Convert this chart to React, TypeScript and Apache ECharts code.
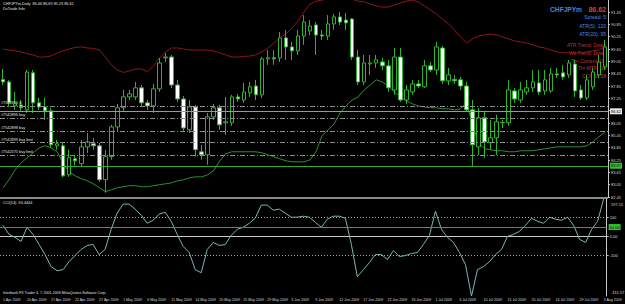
import React, { useEffect, useRef } from "react";
import * as echarts from "echarts";

const tickLabels = [
  "1 Apr 2009", "10 Apr 2009", "17 Apr 2009", "22 Apr 2009", "27 Apr 2009", "1 May 2009",
  "6 May 2009", "11 May 2009", "14 May 2009", "20 May 2009", "25 May 2009", "29 May 2009",
  "3 Jun 2009", "9 Jun 2009", "12 Jun 2009", "17 Jun 2009", "22 Jun 2009", "26 Jun 2009",
  "1 Jul 2009", "6 Jul 2009", "10 Jul 2009", "15 Jul 2009", "20 Jul 2009", "24 Jul 2009",
  "29 Jul 2009", "3 Aug 2009",
];

const opens = [
  88.17, 88.05, 86.88, 86.93, 86.69, 88.49, 87.03, 86.83, 86.64, 84.94,
  84.94, 83.53, 84.31, 84.07, 84.89, 85.04, 84.94, 83.29, 84.41, 85.86,
  86.79, 87.32, 87.32, 87.76, 87.03, 86.88, 87.71, 89.22, 89.26, 87.90,
  87.22, 85.72, 86.83, 84.65, 84.50, 86.35, 86.79, 86.06, 86.06, 87.32,
  87.17, 87.52, 87.85, 87.42, 89.17, 89.22, 89.22, 90.19, 89.75, 89.56,
  90.28, 90.53, 90.82, 90.33, 90.28, 90.87, 91.21, 91.06, 91.11, 89.26,
  88.05, 88.92, 88.97, 89.02, 88.83, 87.66, 89.26, 87.17, 87.56, 87.95,
  87.81, 88.83, 88.63, 89.70, 88.10, 88.17, 88.15, 87.85, 86.69, 84.89,
  86.30, 85.09, 85.33, 86.06, 86.06, 87.61, 87.17, 87.56, 87.76, 88.00,
  87.61, 87.61, 88.44, 88.49, 88.39, 88.92, 87.66, 87.27, 87.81, 88.39,
  88.78,
];
const closes = [
  88.05, 87.03, 86.98, 86.79, 88.53, 87.03, 86.83, 86.64, 84.99, 85.04,
  83.48, 84.36, 84.21, 84.89, 85.13, 84.94, 83.29, 84.41, 85.86, 86.79,
  87.32, 87.47, 87.76, 87.03, 86.88, 87.71, 88.97, 89.26, 87.90, 87.22,
  85.81, 86.83, 84.75, 84.50, 86.35, 86.79, 85.96, 86.11, 87.32, 87.22,
  87.56, 87.81, 87.42, 89.17, 89.22, 89.17, 90.19, 89.75, 89.56, 90.28,
  90.96, 90.77, 90.33, 90.28, 90.87, 91.21, 90.96, 90.92, 89.26, 88.05,
  88.97, 88.97, 89.12, 88.83, 87.76, 89.26, 87.17, 87.66, 87.95, 87.85,
  88.83, 88.63, 89.75, 88.10, 88.39, 88.10, 87.85, 86.69, 84.99, 86.30,
  85.13, 85.33, 86.11, 86.08, 87.66, 87.22, 87.66, 87.76, 88.05, 87.56,
  88.15, 88.44, 88.39, 88.29, 88.97, 87.61, 87.27, 88.15, 88.53, 89.02,
  89.75,
];
const highs = [
  88.68, 88.15, 87.56, 87.17, 88.63, 88.63, 87.27, 87.27, 86.79, 85.23,
  85.09, 84.75, 84.50, 85.23, 85.57, 85.33, 85.09, 84.75, 85.96, 86.98,
  87.66, 87.66, 88.05, 87.90, 87.17, 87.95, 89.22, 89.46, 89.36, 88.15,
  87.37, 87.17, 86.93, 84.99, 86.54, 86.98, 86.93, 87.32, 87.42, 87.47,
  88.00, 88.05, 88.15, 89.26, 89.60, 89.60, 90.48, 90.58, 89.99, 90.58,
  91.30, 91.06, 90.96, 90.58, 91.30, 91.35, 91.45, 91.40, 91.16, 89.60,
  89.36, 89.36, 89.36, 89.22, 89.12, 89.70, 89.70, 87.90, 88.15, 88.15,
  89.12, 89.02, 89.99, 89.80, 88.73, 88.39, 88.29, 88.05, 87.17, 86.79,
  86.59, 86.20, 86.45, 86.20, 88.15, 87.76, 88.05, 88.15, 88.63, 88.63,
  88.63, 88.73, 88.73, 88.88, 89.12, 89.12, 87.90, 88.39, 88.73, 89.36,
  90.09,
];
const lows = [
  87.90, 86.83, 86.69, 86.59, 86.54, 86.54, 86.69, 86.20, 84.84, 84.75,
  83.41, 83.43, 83.97, 83.92, 84.60, 84.75, 83.19, 82.66, 84.26, 85.62,
  86.59, 87.17, 87.17, 86.88, 86.69, 86.54, 87.56, 89.02, 87.76, 87.08,
  85.67, 85.57, 84.41, 84.26, 84.02, 86.20, 85.72, 85.47, 85.91, 87.08,
  87.03, 87.32, 87.17, 87.27, 88.88, 88.88, 89.02, 89.12, 89.12, 89.36,
  89.85, 90.33, 89.36, 90.09, 90.09, 90.58, 90.82, 90.58, 89.12, 87.90,
  87.90, 88.39, 88.73, 88.63, 87.56, 87.42, 87.08, 86.98, 87.42, 87.76,
  87.76, 88.53, 88.39, 87.95, 87.90, 87.95, 87.66, 86.59, 83.97, 84.50,
  84.36, 84.75, 84.50, 85.81, 85.91, 87.03, 87.03, 87.42, 87.56, 87.42,
  87.42, 87.52, 88.24, 88.15, 88.24, 87.32, 87.17, 87.17, 87.66, 88.24,
  88.63,
];

const upperBand = [
  89.65, 89.60, 89.56, 89.51, 89.43, 89.36, 89.26, 89.26, 89.31, 89.46,
  89.56, 89.65, 89.73, 89.75, 89.70, 89.68, 89.60, 89.26, 88.88, 88.63,
  88.51, 88.58, 88.68, 88.68, 88.54, 88.83, 89.22, 89.51, 89.70, 89.70,
  89.65, 89.60, 89.60, 89.60, 89.60, 89.56, 89.46, 89.36, 89.26, 89.26,
  89.29, 89.31, 89.36, 89.51, 89.70, 89.94, 90.19, 90.38, 90.67, 91.01,
  91.45, 91.84, 91.98, 92.03, 92.08, 92.13, 92.18, 92.18, 92.08, 91.98,
  91.94, 91.84, 91.74, 91.69, 91.69, 91.79, 91.89, 91.98, 92.03, 91.94,
  91.74, 91.55, 91.35, 91.11, 90.87, 90.58, 90.24, 89.94, 90.14, 90.28,
  90.33, 90.38, 90.33, 90.24, 90.14, 90.04, 89.99, 89.94, 89.85, 89.75,
  89.70, 89.60, 89.51, 89.46, 89.46, 89.46, 89.46, 89.51, 89.56, 89.60,
  89.75,
];
const lowerBand = [
  82.90, 83.29, 83.77, 84.11, 84.36, 84.60, 84.84, 84.94, 84.84, 84.65,
  84.07, 83.68, 83.48, 83.34, 83.24, 83.09, 82.90, 82.71, 82.80, 82.90,
  82.95, 83.00, 83.00, 82.95, 82.95, 83.00, 83.05, 83.09, 83.14, 83.24,
  83.29, 83.39, 83.43, 83.43, 83.53, 83.73, 84.21, 84.55, 84.65, 84.65,
  84.65, 84.65, 84.65, 84.60, 84.50, 84.41, 84.31, 84.21, 84.16, 84.16,
  84.16, 84.26, 84.65, 85.43, 85.72, 86.01, 86.54, 86.88, 87.17, 87.32,
  87.66, 87.90, 88.15, 88.05, 87.85, 87.56, 87.32, 87.13, 86.98, 86.88,
  86.83, 86.79, 86.79, 86.74, 86.74, 86.69, 86.74, 87.03, 85.96, 85.09,
  84.79, 84.75, 84.70, 84.70, 84.65, 84.65, 84.70, 84.70, 84.70, 84.75,
  84.79, 84.84, 84.89, 84.89, 84.89, 84.89, 84.89, 84.94, 85.13, 85.38,
  85.62,
];
const cci = [
  59.2, 11.6, -4.2, -25.4, 48.7, 11.6, -41.3, -94.2, -157.6, -178.8,
  -173.5, -131.2, -99.5, -67.7, -46.6, -41.3, -94.2, -67.7, 38.1, 122.7,
  170.3, 170.3, 143.9, 112.1, 69.8, 85.6, 117.4, 128.0, 80.4, 11.6,
  -51.8, -83.6, -173.5, -189.4, -67.7, -30.7, -46.6, -41.3, 6.3, 38.1,
  48.7, 69.8, 96.3, 165.0, 165.0, 138.6, 143.9, 122.7, 101.6, 101.6,
  106.9, 101.6, 75.1, 48.7, 91.0, 106.9, 106.9, 96.3, -41.3, -210.5,
  -173.5, -136.5, -94.2, -94.2, -120.6, -73.0, -104.7, -99.5, -88.9, -83.6,
  -41.3, 6.3, 133.3, 38.1, -4.2, -30.7, -83.6, -147.1, -311.57, -173.5,
  -157.6, -131.2, -94.2, -67.7, 1.1, 11.6, 27.5, 59.2, 96.3, 80.4,
  69.8, 101.6, 91.0, 85.6, 101.6, 59.2, -14.8, -30.7, 38.1, 80.4,
  197.11,
];

const priceTicks = [91.45, 90.85, 90.25, 89.65, 89.05, 88.45, 87.85, 87.25, 86.65, 86.05, 85.45, 84.85, 84.25, 83.65, 83.05, 82.45];
const cciTicks = [100, 0, -100];
const cciMax = 197.11;
const cciMin = -311.57;
const orderLevels = [86.88, 86.30, 85.67, 85.09, 84.50];
const orderNames = ["#7542896 sl", "#7542896 buy", "#7542898 buy", "#7542899 buy limit", "#7542575 buy limit"];
const bidPrice = 86.62;
const supportLevel = 83.97;
const cciLevels = [100, -100];
const cciSignal = 50;

const GREEN = "#2fb32f";
const AXIS = "#c8c8c8";
const FONT = "'Liberation Sans', Arial, sans-serif";

export default function App() {
  const ref = useRef<HTMLDivElement>(null);
  useEffect(() => {
    if (!ref.current) return;
    const chart = echarts.init(ref.current, null, { renderer: "svg" });
    const categories = closes.map((_, i) =>
      i % 4 === 0 ? tickLabels[i / 4] : `${tickLabels[Math.floor(i / 4)]} +${i % 4}`
    );
    const candles = opens.map((o, i) => [o, closes[i], lows[i], highs[i]]);
    const smallText = { color: "#d8d8d8", fontSize: 4, fontFamily: FONT };
    const option: any = {
      animation: false,
      backgroundColor: "#000",
      textStyle: { fontFamily: FONT },
      grid: [
        { left: 0, right: 17, top: 0, height: 197 },
        { left: 0, right: 17, top: 199, height: 97 },
      ],
      xAxis: [
        { type: "category", gridIndex: 0, data: categories, show: false },
        {
          type: "category",
          gridIndex: 1,
          data: categories,
          axisLine: { lineStyle: { color: AXIS, width: 1 } },
          axisTick: { alignWithLabel: true, interval: 3, length: 3, lineStyle: { color: AXIS } },
          axisLabel: {
            interval: 3,
            align: "left",
            margin: 2,
            fontSize: 3.6,
            color: "#d8d8d8",
            fontFamily: FONT,
            formatter: (v: string) => (tickLabels.includes(v) ? v : ""),
          },
          splitLine: { show: false },
        },
      ],
      yAxis: [
        {
          type: "value",
          gridIndex: 0,
          position: "right",
          min: 82.45,
          max: 92.034,
          splitLine: { show: false },
          axisLine: { show: true, lineStyle: { color: AXIS } },
          axisTick: { show: true, length: 2, customValues: priceTicks, lineStyle: { color: AXIS } },
          axisLabel: {
            customValues: priceTicks,
            margin: 3,
            ...smallText,
            formatter: (v: number) => v.toFixed(2),
          },
        },
        {
          type: "value",
          gridIndex: 1,
          position: "right",
          min: cciMin,
          max: cciMax,
          splitLine: { show: false },
          axisLine: { show: true, lineStyle: { color: AXIS } },
          axisTick: { show: true, length: 2, customValues: cciTicks, lineStyle: { color: AXIS } },
          axisLabel: {
            customValues: cciTicks,
            margin: 3,
            ...smallText,
            formatter: (v: number) => (v === 0 ? "0.00" : String(v)),
          },
        },
      ],
      series: [
        {
          type: "line",
          name: "upper",
          data: upperBand,
          symbol: "none",
          lineStyle: { color: "#8e1616", width: 1 },
          z: 1,
        },
        {
          type: "line",
          name: "lower",
          data: lowerBand,
          symbol: "none",
          lineStyle: { color: "#2f8f2f", width: 1 },
          z: 1,
        },
        {
          type: "candlestick",
          name: "CHFJPYm",
          data: candles,
          barWidth: 4,
          z: 3,
          itemStyle: {
            color: "#000",
            color0: "#ffffff",
            borderColor: GREEN,
            borderColor0: GREEN,
            borderWidth: 1,
          },
          markLine: {
            symbol: "none",
            silent: true,
            animation: false,
            data: [
              ...orderLevels.map((lv, k) => ({
                yAxis: lv,
                lineStyle: { color: "#8c8c8c", type: [5, 2, 1, 2], width: 1 },
                label: {
                  show: true,
                  position: "insideStartTop",
                  distance: [1, 1],
                  formatter: orderNames[k],
                  color: "#e0e0e0",
                  fontSize: 3.8,
                  fontFamily: FONT,
                },
              })),
              {
                yAxis: bidPrice,
                lineStyle: { color: "#9a9a9a", type: "solid", width: 1 },
                label: {
                  show: true,
                  position: "end",
                  distance: 2,
                  formatter: bidPrice.toFixed(2),
                  backgroundColor: "#e8e8e8",
                  color: "#000",
                  fontSize: 4,
                  padding: [1, 1],
                  fontFamily: FONT,
                },
              },
              {
                yAxis: supportLevel,
                lineStyle: { color: "#2ea82e", type: "solid", width: 1 },
                label: {
                  show: true,
                  position: "end",
                  distance: 2,
                  formatter: supportLevel.toFixed(2),
                  backgroundColor: "#2ec42e",
                  color: "#000",
                  fontSize: 4,
                  padding: [1, 1],
                  fontFamily: FONT,
                },
              },
            ],
          },
        },
        {
          type: "line",
          name: "CCI(14)",
          xAxisIndex: 1,
          yAxisIndex: 1,
          data: cci,
          symbol: "none",
          lineStyle: { color: "#7bb8b0", width: 1 },
          markLine: {
            symbol: "none",
            silent: true,
            animation: false,
            data: [
              ...cciLevels.map((lv) => ({
                yAxis: lv,
                lineStyle: { color: "#a8a8a8", type: [1, 2], width: 1 },
                label: { show: false },
              })),
              {
                yAxis: cciSignal,
                lineStyle: { color: "#2ea82e", type: "solid", width: 1 },
                label: {
                  show: true,
                  position: "end",
                  distance: 2,
                  formatter: cciSignal.toFixed(2),
                  backgroundColor: "#2ec42e",
                  color: "#000",
                  fontSize: 4,
                  padding: [1, 1],
                  fontFamily: FONT,
                },
              },
            ],
          },
        },
      ],
      graphic: [
        { type: "rect", shape: { x: 0, y: 197, width: 608, height: 2 }, style: { fill: "#8a8a8a" }, silent: true },
        { type: "text", x: 611, y: 204, style: { text: cciMax.toFixed(2), fill: "#d8d8d8", font: `4px ${FONT}`, textVerticalAlign: "middle" } },
        { type: "text", x: 611, y: 292, style: { text: cciMin.toFixed(2), fill: "#d8d8d8", font: `4px ${FONT}`, textVerticalAlign: "middle" } },
        { type: "text", x: 3, y: 4, style: { text: "CHFJPYm,Daily  86.46 86.69 85.23 86.62", fill: "#e0e0e0", font: `3.8px ${FONT}`, textVerticalAlign: "middle" } },
        { type: "text", x: 3, y: 9, style: { text: "DsTrade Info", fill: "#e0e0e0", font: `3.8px ${FONT}`, textVerticalAlign: "middle" } },
        { type: "text", x: 3, y: 203, style: { text: "CCI(14) -94.4444", fill: "#e0e0e0", font: `3.8px ${FONT}`, textVerticalAlign: "middle" } },
        { type: "text", x: 3, y: 293, style: { text: "Interbank FX Trader 4, © 2001-2009 MetaQuotes Software Corp.", fill: "#e0e0e0", font: `3.6px ${FONT}`, textVerticalAlign: "middle" } },
        { type: "text", x: 582, y: 9, style: { text: "CHFJPYm", fill: "#4a86e0", font: `bold 6.6px ${FONT}`, textAlign: "right", textVerticalAlign: "middle" } },
        { type: "text", x: 606, y: 9, style: { text: "86.62", fill: "#e03a34", font: `bold 7px ${FONT}`, textAlign: "right", textVerticalAlign: "middle" } },
        { type: "text", x: 606, y: 17, style: { text: "Spread: 5", fill: "#4a86e0", font: `5px ${FONT}`, textAlign: "right", textVerticalAlign: "middle" } },
        { type: "text", x: 606, y: 26, style: { text: "ATR(5): 120", fill: "#4a86e0", font: `5px ${FONT}`, textAlign: "right", textVerticalAlign: "middle" } },
        { type: "text", x: 606, y: 34, style: { text: "ATR(20): 95", fill: "#4a86e0", font: `5px ${FONT}`, textAlign: "right", textVerticalAlign: "middle" } },
        { type: "text", x: 606, y: 45, style: { text: "ATR Trend: Down", fill: "#c8302a", font: `5px ${FONT}`, textAlign: "right", textVerticalAlign: "middle" } },
        { type: "text", x: 606, y: 53, style: { text: "Wk Trend: Down", fill: "#c8302a", font: `5px ${FONT}`, textAlign: "right", textVerticalAlign: "middle" } },
        { type: "text", x: 606, y: 61, style: { text: "Ttn Current: Up", fill: "#c8302a", font: `5px ${FONT}`, textAlign: "right", textVerticalAlign: "middle" } },
        { type: "text", x: 606, y: 68, style: { text: "Ttn MTF: Up", fill: "#c8302a", font: `5px ${FONT}`, textAlign: "right", textVerticalAlign: "middle" } },
        { type: "text", x: 606, y: 76, style: { text: "CCI: 56.58", fill: "#c8302a", font: `5px ${FONT}`, textAlign: "right", textVerticalAlign: "middle" } },
      ],
    };
    chart.setOption(option);
    return () => chart.dispose();
  }, []);
  return (
    <div
      ref={ref}
      style={{ position: "fixed", left: 0, top: 0, width: 625, height: 304, background: "#000" }}
    />
  );
}
